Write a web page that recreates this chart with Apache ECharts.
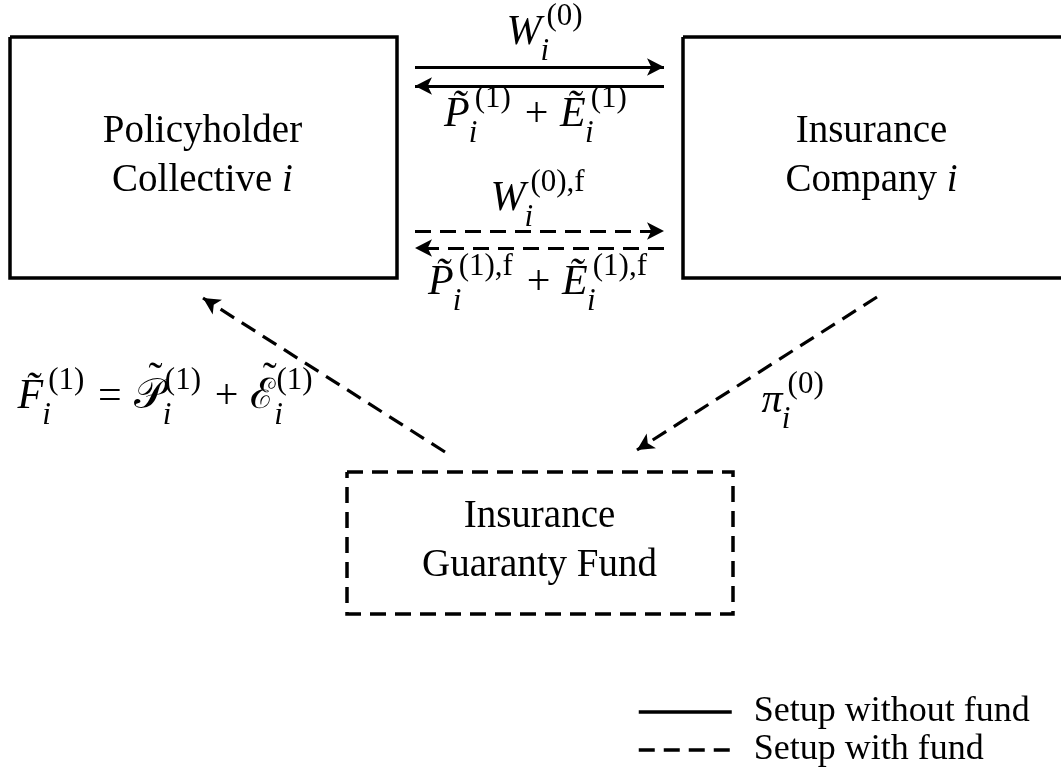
<!DOCTYPE html>
<html>
<head>
<meta charset="utf-8">
<script src="https://cdn.jsdelivr.net/npm/echarts@6/dist/echarts.min.js"></script>
<style>
  html, body { margin: 0; padding: 0; background: #fff; }
  #main { width: 1061px; height: 778px; }
</style>
</head>
<body>
<div id="main"></div>
<script>
  const FONT = '"Liberation Serif", "DejaVu Serif", serif'

  // box outlines, [left, top, right, bottom] in page units
  const solidBoxes = [[10, 37, 397, 278], [683, 37, 1063, 278]]
  const dashedBoxes = [[347, 472, 733, 614]]
  // arrows, [fromX, fromY, toX, toY]
  const solidArrows = [[415, 67, 664, 67], [664, 86, 415, 86]]
  const dashedArrows = [[415, 231, 664, 231], [664, 248, 415, 248], [445, 452, 203, 298], [877, 297, 637, 450]]
  // text inside the boxes
  const boxText = [
    { x: 203, y: 157, text: 'Policyholder\nCollective {it|i}' },
    { x: 872, y: 157, text: 'Insurance\nCompany {it|i}' },
    { x: 540, y: 542, text: 'Insurance\nGuaranty Fund' }
  ]
  // formulas: [x, midY, centred?, tokens]
  // 'it' italic, 'rm' upright, 'op' binary operator, 'sc' script letter with tilde, 'ss' = [sup, sub]
  const formulas = [
    [546, 33, true, [['it', 'W'], ['ss', '(0)', 'i']]],
    [537, 115, true, [['it', 'P\u0303'], ['ss', '(1)', 'i'], ['op', '+'], ['it', 'E\u0303'], ['ss', '(1)', 'i']]],
    [539, 199, true, [['it', 'W'], ['ss', '(0),f', 'i']]],
    [539, 283, true, [['it', 'P\u0303'], ['ss', '(1),f', 'i'], ['op', '+'], ['it', 'E\u0303'], ['ss', '(1),f', 'i']]],
    [18, 397, false, [['it', 'F\u0303'], ['ss', '(1)', 'i'], ['op', '='], ['sc', '\uD835\uDCAB'], ['ss', '(1)', 'i'], ['op', '+'], ['sc', '\u2130'], ['ss', '(1)', 'i']]],
    [762, 401, false, [['it', '\u03C0'], ['ss', '(0)', 'i']]]
  ]
  const legendNames = ['Setup without fund', 'Setup with fund']

  const BASE = 42
  const SCRIPT = 31

  // measure text so the script pieces can be set after their base
  const ctx = document.createElement('canvas').getContext('2d')
  function textWidth (text, size, italic) {
    ctx.font = (italic ? 'italic ' : '') + size + 'px ' + FONT
    return ctx.measureText(text).width
  }
  function piece (x, y, text, size, italic) {
    return {
      value: [x, y],
      label: { formatter: text, fontSize: size, fontStyle: italic ? 'italic' : 'normal', align: 'left' }
    }
  }
  function layout (f) {
    const y = f[1]
    const out = []
    let x = 0
    let slant = 0
    f[3].forEach(t => {
      if (t[0] === 'ss') {
        const supX = x + (slant ? slant * BASE : 1)
        const subX = x - (slant ? 0.02 * BASE : 0)
        out.push(piece(supX, y - 16, t[1], SCRIPT, false))
        out.push(piece(subX, y + 19, t[2], SCRIPT, true))
        x = Math.max(supX + textWidth(t[1], SCRIPT, false), subX + textWidth(t[2], SCRIPT, true)) + 2
        slant = 0
      } else if (t[0] === 'op') {
        const gap = 0.28 * BASE
        out.push(piece(x + gap, y, t[1], BASE, false))
        x += 2 * gap + textWidth(t[1], BASE, false)
        slant = 0
      } else if (t[0] === 'sc') {
        const w = textWidth(t[1], BASE, false)
        out.push(piece(x, y, t[1], BASE, false))
        out.push(piece(x + w / 2, y - 17, '\u02DC', BASE, false))
        x += w
        slant = 0.03
      } else {
        const it = t[0] === 'it'
        out.push(piece(x, y, t[1], BASE, it))
        x += textWidth(t[1], BASE, it)
        slant = it ? 0.12 : 0
      }
    })
    const shift = f[2] ? f[0] - x / 2 : f[0]
    out.forEach(p => { p.value[0] += shift })
    return out
  }

  function boxPath (list) {
    const d = []
    list.forEach(b => {
      d.push([b[0], b[1]], [b[2], b[1]], [b[2], b[3]], [b[0], b[3]], [b[0], b[1]], ['-', '-'])
    })
    return d
  }
  function arrowData (list) {
    return list.map(a => [{ coord: [a[0], a[1]] }, { coord: [a[2], a[3]] }])
  }

  const mathData = []
  formulas.forEach(f => { mathData.push(...layout(f)) })
  const boxLabelData = boxText.map(b => ({ value: [b.x, b.y], label: { formatter: b.text } }))

  const chart = echarts.init(document.getElementById('main'))
  chart.setOption({
    animation: false,
    textStyle: { fontFamily: FONT, color: '#000' },
    grid: { left: 0, right: 0, top: 0, bottom: 0 },
    xAxis: { type: 'value', min: 0, max: 1061, show: false },
    yAxis: { type: 'value', min: 0, max: 778, inverse: true, show: false },
    legend: {
      data: legendNames,
      orient: 'vertical',
      left: 637,
      top: 693,
      padding: 0,
      itemGap: 0,
      itemWidth: 93,
      itemHeight: 14,
      selectedMode: false,
      itemStyle: { color: 'rgba(0,0,0,0)', borderWidth: 0 },
      lineStyle: { width: 3.5 },
      textStyle: { fontFamily: FONT, fontSize: 36, color: '#000', lineHeight: 38, padding: [0, 0, 0, 17] }
    },
    series: [
      {
        name: legendNames[0],
        type: 'line',
        symbol: 'none',
        silent: true,
        data: boxPath(solidBoxes),
        lineStyle: { color: '#000', width: 3.5, type: 'solid', join: 'miter' },
        itemStyle: { color: '#000' },
        markLine: {
          silent: true,
          symbol: ['none', 'arrow'],
          symbolSize: [13, 17],
          label: { show: false },
          lineStyle: { color: '#000', width: 3.2, type: 'solid' },
          data: arrowData(solidArrows)
        }
      },
      {
        name: legendNames[1],
        type: 'line',
        symbol: 'none',
        silent: true,
        data: boxPath(dashedBoxes),
        lineStyle: { color: '#000', width: 3.5, type: [16, 9], join: 'miter' },
        itemStyle: { color: '#000' },
        markLine: {
          silent: true,
          symbol: ['none', 'arrow'],
          symbolSize: [13, 17],
          label: { show: false },
          lineStyle: { color: '#000', width: 3.2, type: [16, 9] },
          data: arrowData(dashedArrows)
        }
      },
      {
        type: 'scatter',
        silent: true,
        symbolSize: 1,
        itemStyle: { color: 'rgba(0,0,0,0)', opacity: 1 },
        label: {
          show: true,
          position: [0, 0],
          align: 'center',
          verticalAlign: 'middle',
          fontSize: 39,
          lineHeight: 49,
          color: '#000',
          opacity: 1,
          textBorderWidth: 0,
          fontFamily: FONT,
          rich: { it: { fontStyle: 'italic', fontSize: 39, fontFamily: FONT, color: '#000' } }
        },
        data: boxLabelData
      },
      {
        type: 'scatter',
        silent: true,
        symbolSize: 1,
        itemStyle: { color: 'rgba(0,0,0,0)', opacity: 1 },
        label: { show: true, position: [0, 0], verticalAlign: 'middle', color: '#000', opacity: 1, textBorderWidth: 0, fontFamily: FONT },
        data: mathData
      }
    ]
  })
</script>
</body>
</html>
